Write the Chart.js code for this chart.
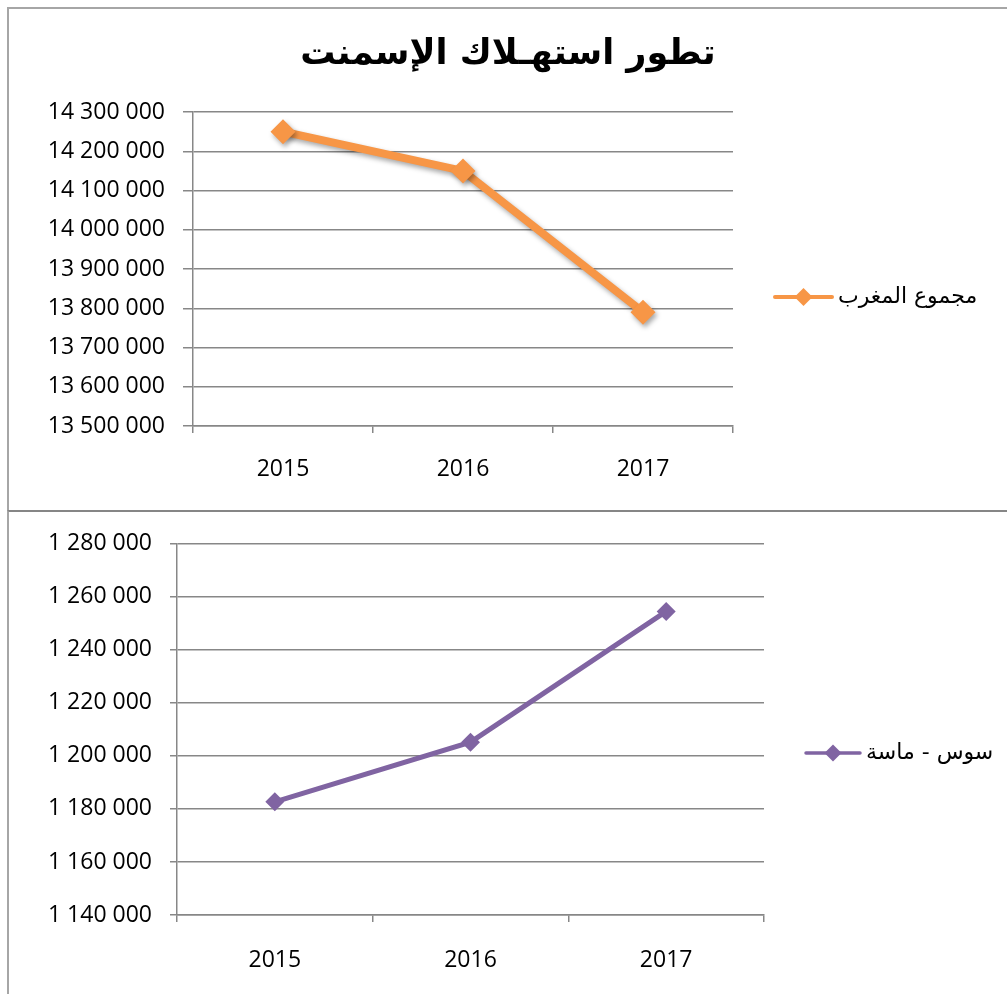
<!DOCTYPE html>
<html lang="ar">
<head>
<meta charset="utf-8">
<title>تطور استهلاك الإسمنت</title>
<script src="https://cdn.jsdelivr.net/npm/chart.js@4.4.1/dist/chart.umd.min.js"></script>
<style>
  html, body { margin: 0; padding: 0; background: #fff; overflow: hidden; }
  #topBox { position: absolute; left: 7px; top: 7px; width: 998px; height: 501px;
            border-left: 2px solid #a6a6a6; border-top: 2px solid #a6a6a6; }
  #bottomBox { position: absolute; left: 7px; top: 510px; width: 998px; height: 482px;
               border-left: 2px solid #a6a6a6; border-top: 2px solid #868686; }
  canvas { display: block; }
</style>
</head>
<body>
<div id="topBox"><canvas id="moroccoChart" width="998" height="501"></canvas></div>
<div id="bottomBox"><canvas id="sousChart" width="998" height="482"></canvas></div>

<script>
// البيانات
const years = ['2015', '2016', '2017'];
const moroccoLabel = 'مجموع المغرب';
const moroccoValues = [14250000, 14150000, 13790000];
const sousLabel = 'سوس - ماسة';
const sousValues = [1182700, 1205200, 1254500];
const chartTitle = 'تطور استهـلاك الإسمنت';

// حدود المحاور
const moroccoMin = 13500000, moroccoMax = 14300000, moroccoStep = 100000;
const sousMin = 1140000, sousMax = 1280000, sousStep = 20000;

const ORANGE = '#f79646';
const PURPLE = '#8064a2';
const GRID = '#878787';
const tickFont = { family: "'Open Sans', sans-serif", size: 23 };

// 14300000 -> "14 300 000"
function spaced(v) {
  return String(v).replace(/\B(?=(\d{3})+(?!\d))/g, ' ');
}

// وسيلة الإيضاح على اليمين: خط + معين + نص
const sideLegend = {
  id: 'sideLegend',
  afterDraw(chart, args, opts) {
    const ctx = chart.ctx;
    const ds = chart.data.datasets[0];
    const x0 = chart.chartArea.right + opts.offset;
    const y = opts.y;
    ctx.save();
    ctx.strokeStyle = ds.borderColor;
    ctx.lineWidth = opts.lineWidth;
    ctx.lineCap = 'round';
    ctx.beginPath();
    ctx.moveTo(x0, y);
    ctx.lineTo(x0 + opts.len, y);
    ctx.stroke();
    ctx.fillStyle = ds.borderColor;
    Chart.helpers.drawPoint(ctx, { pointStyle: 'rectRot', radius: opts.radius, borderWidth: 0 }, x0 + opts.len / 2, y);
    ctx.fillStyle = '#000';
    ctx.font = "22px 'DejaVu Sans', sans-serif";
    ctx.direction = 'rtl';
    ctx.textAlign = 'left';
    ctx.textBaseline = 'middle';
    ctx.fillText(ds.label, x0 + opts.len + opts.gap, y);
    ctx.restore();
  }
};

// ظل خفيف تحت العلامات (المنحنى العلوي)
const softShadow = {
  id: 'softShadow',
  beforeDatasetDraw(chart) {
    const ctx = chart.ctx;
    ctx.save();
    ctx.shadowColor = 'rgba(0,0,0,0.35)';
    ctx.shadowBlur = 5;
    ctx.shadowOffsetX = 2;
    ctx.shadowOffsetY = 3;
  },
  afterDatasetDraw(chart) {
    chart.ctx.restore();
  }
};

// محور فارغ على اليمين يحجز مكان وسيلة الإيضاح (العنوان يبقى في الوسط)
function axes(min, max, step, yWidth, yTickLen, xHeight, xPad, rightSpace) {
  return {
    x: {
      offset: true,
      grid: { offset: true, drawOnChartArea: false, drawTicks: true, tickLength: 7, color: GRID, lineWidth: 1.5 },
      border: { display: true, color: GRID, width: 1.5 },
      ticks: { font: tickFont, color: '#000', padding: xPad, maxRotation: 0 },
      afterFit(s) { s.height = xHeight; }
    },
    y: {
      min: min, max: max,
      grid: { color: GRID, lineWidth: 1.5, tickLength: yTickLen },
      border: { display: true, color: GRID, width: 1.5 },
      ticks: { stepSize: step, font: tickFont, color: '#000', padding: 18, callback: v => spaced(v) },
      afterFit(s) { s.width = yWidth; }
    },
    spacer: {
      position: 'right',
      grid: { display: false },
      border: { display: false },
      ticks: { display: false },
      afterFit(s) { s.width = rightSpace; }
    }
  };
}

new Chart(document.getElementById('moroccoChart'), {
  type: 'line',
  data: {
    labels: years,
    datasets: [{
      label: moroccoLabel,
      data: moroccoValues,
      borderColor: ORANGE,
      backgroundColor: ORANGE,
      borderWidth: 8,
      pointStyle: 'rectRot',
      pointRadius: 12.5,
      pointBorderWidth: 0,
      tension: 0,
      fill: false
    }]
  },
  options: {
    responsive: false,
    animation: false,
    layout: { padding: { top: 25, left: 0, right: 0, bottom: 0 } },
    plugins: {
      legend: { display: false },
      tooltip: { enabled: false },
      title: {
        display: true,
        text: chartTitle,
        color: '#000',
        font: { family: "'DejaVu Sans', sans-serif", size: 35, weight: 'bold' },
        padding: { top: 0, bottom: 36 }
      },
      sideLegend: { offset: 42, len: 57, y: 288, radius: 9, lineWidth: 4, gap: 6 }
    },
    scales: axes(moroccoMin, moroccoMax, moroccoStep, 184, 10, 84, 23, 274)
  },
  plugins: [sideLegend, softShadow]
});

new Chart(document.getElementById('sousChart'), {
  type: 'line',
  data: {
    labels: years,
    datasets: [{
      label: sousLabel,
      data: sousValues,
      borderColor: PURPLE,
      backgroundColor: PURPLE,
      borderWidth: 5,
      pointStyle: 'rectRot',
      pointRadius: 9.5,
      pointBorderWidth: 0,
      tension: 0,
      fill: false
    }]
  },
  options: {
    responsive: false,
    animation: false,
    layout: { padding: { top: 26, left: 0, right: 0, bottom: 0 } },
    plugins: {
      legend: { display: false },
      tooltip: { enabled: false },
      title: { display: false },
      sideLegend: { offset: 42, len: 54, y: 241, radius: 8.5, lineWidth: 3.5, gap: 6 }
    },
    scales: axes(sousMin, sousMax, sousStep, 168, 7, 79, 25, 243)
  },
  plugins: [sideLegend]
});
</script>
</body>
</html>
